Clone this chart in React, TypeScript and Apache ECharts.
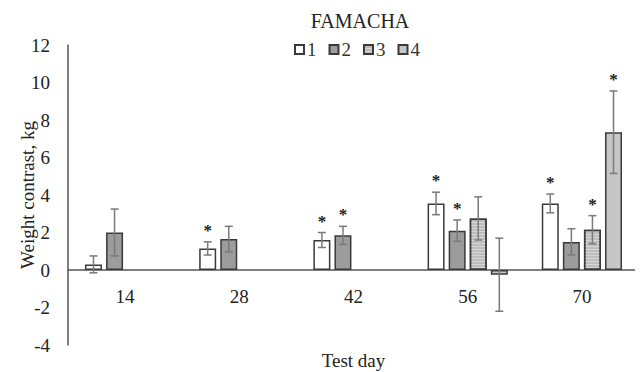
import React, { useEffect, useRef } from "react";
import * as echarts from "echarts";

const days = ["14", "28", "42", "56", "70"];
const seriesNames = ["1", "2", "3", "4"];
const famacha1 = [0.3, 1.15, 1.6, 3.55, 3.55];
const famacha2 = [2.0, 1.65, 1.85, 2.1, 1.5];
const famacha3 = [null, null, null, 2.75, 2.15];
const famacha4 = [null, null, null, -0.25, 7.35];
const err1 = [0.45, 0.35, 0.4, 0.6, 0.5];
const err2 = [1.25, 0.68, 0.48, 0.57, 0.7];
const err3 = [null, null, null, 1.15, 0.75];
const err4 = [null, null, null, 1.95, 2.2];
const sig1 = [0, 1, 1, 1, 1];
const sig2 = [0, 0, 1, 1, 0];
const sig3 = [0, 0, 0, 0, 1];
const sig4 = [0, 0, 0, 0, 1];
const yTicks = { min: -4, max: 12, interval: 2 };

const values = [famacha1, famacha2, famacha3, famacha4];
const errors = [err1, err2, err3, err4];
const sigs = [sig1, sig2, sig3, sig4];

const FONT = "'Liberation Serif', 'Times New Roman', serif";
const FS = 19;
const BAR_W = 17;
const GAP_PCT = 0.24;
const BORDER = "#3a3a3a";
const GRID = { left: 68, right: 4, top: 45, bottom: 27 };

const fills: any[] = [
  { color: "#ffffff" },
  { color: "#9c9c9c" },
  {
    color: "#bdbdbd",
    decal: {
      symbol: "rect",
      symbolSize: 1,
      dashArrayX: [1, 0],
      dashArrayY: [1, 2],
      color: "rgba(230,230,230,0.6)",
      rotation: 0,
    },
  },
  { color: "#c6c6c6" },
];

export default function App() {
  const ref = useRef<HTMLDivElement>(null);
  useEffect(() => {
    if (!ref.current) return;
    const chart = echarts.init(ref.current, null, { renderer: "svg" });
    const gap = BAR_W * GAP_PCT;
    const groupW = 4 * BAR_W + 3 * gap;
    const offsetOf = (i: number) => -groupW / 2 + BAR_W / 2 + i * (BAR_W + gap);

    // place the category axis on the value 0 line (including its labels)
    const plotH = 372 - GRID.top - GRID.bottom;
    const zeroShift = -plotH * (0 - yTicks.min) / (yTicks.max - yTicks.min);

    const barSeries = values.map((vals, i) => ({
      name: seriesNames[i],
      type: "bar",
      data: vals,
      barWidth: BAR_W,
      barGap: GAP_PCT * 100 + "%",
      itemStyle: {
        color: fills[i].color,
        borderColor: BORDER,
        borderWidth: 1.5,
        decal: fills[i].decal,
      },
      z: 2,
    }));

    const errSeries = values.map((vals, i) => ({
      name: "err" + i,
      type: "custom",
      z: 5,
      data: vals
        .map((v, k) => (v == null ? null : [k, v, errors[i][k], sigs[i][k]]))
        .filter((d) => d != null),
      encode: { x: 0, y: 1 },
      renderItem: (params: any, api: any) => {
        const k = api.value(0);
        const v = api.value(1);
        const e = api.value(2);
        const s = api.value(3);
        const c = api.coord([k, v]);
        const hi = api.coord([k, v + e]);
        const lo = api.coord([k, v - e]);
        const x = c[0] + offsetOf(i);
        const cap = 4;
        const st = { stroke: "#7a7a7a", lineWidth: 1.5 };
        const children: any[] = [
          { type: "line", shape: { x1: x, y1: hi[1], x2: x, y2: lo[1] }, style: st },
          { type: "line", shape: { x1: x - cap, y1: hi[1], x2: x + cap, y2: hi[1] }, style: st },
          { type: "line", shape: { x1: x - cap, y1: lo[1], x2: x + cap, y2: lo[1] }, style: st },
        ];
        if (s) {
          children.push({
            type: "text",
            style: {
              text: "*",
              x: x,
              y: hi[1] - 3,
              textAlign: "center",
              textVerticalAlign: "bottom",
              font: "bold 17px " + FONT,
              fill: "#222",
            },
          });
        }
        return { type: "group", children };
      },
    }));

    chart.setOption({
      animation: false,
      grid: { ...GRID, containLabel: false, outerBoundsMode: "none" },
      graphic: [
        {
          type: "text",
          x: 360,
          y: 21,
          style: {
            text: "FAMACHA",
            textAlign: "center",
            textVerticalAlign: "middle",
            font: "20px " + FONT,
            fill: "#222",
          },
        },
      ],
      legend: {
        data: seriesNames,
        left: 289,
        top: 35,
        itemWidth: 9,
        itemHeight: 9,
        itemGap: 12,
        icon: "rect",
        textStyle: { fontFamily: FONT, fontSize: FS, color: "#333", padding: [0, 0, 0, -2] },
      },
      xAxis: {
        type: "category",
        data: days,
        offset: zeroShift,
        axisLine: { onZero: false, lineStyle: { color: "#555", width: 1.5 } },
        axisTick: { show: false },
        axisLabel: { fontFamily: FONT, fontSize: FS, color: "#222", margin: 17 },
        name: "Test day",
        nameLocation: "middle",
        nameGap: 81,
        nameMoveOverlap: false,
        nameTextStyle: { fontFamily: FONT, fontSize: FS, color: "#222" },
        splitLine: { show: false },
      },
      yAxis: {
        type: "value",
        min: yTicks.min,
        max: yTicks.max,
        interval: yTicks.interval,
        axisLine: { show: true, lineStyle: { color: "#555", width: 1.5 } },
        axisTick: { show: false },
        splitLine: { show: false },
        axisLabel: { fontFamily: FONT, fontSize: FS, color: "#222", margin: 18 },
        name: "Weight contrast, kg",
        nameLocation: "middle",
        nameGap: 31,
        nameMoveOverlap: false,
        nameTextStyle: { fontFamily: FONT, fontSize: FS, color: "#222" },
      },
      series: [...barSeries, ...errSeries],
    });
    return () => chart.dispose();
  }, []);
  return <div ref={ref} style={{ width: 643, height: 372, marginLeft: -8, marginTop: -8 }} />;
}
